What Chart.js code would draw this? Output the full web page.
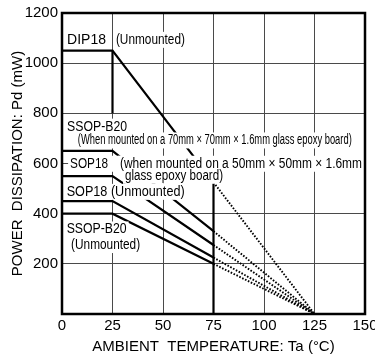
<!DOCTYPE html>
<html><head><meta charset="utf-8">
<script src="https://cdn.jsdelivr.net/npm/chart.js@4/dist/chart.umd.min.js"></script>
<style>
html,body{margin:0;padding:0;background:#fff;overflow:hidden}
#wrap{width:375px;height:364px;overflow:hidden;position:relative}
canvas{display:block}
</style></head><body>
<div id="wrap"><canvas id="c" width="390" height="364"></canvas></div>
<script>
// ---- data ----
const temperatures = [0, 25, 75, 125];          // Ta (°C): flat start, knee, end of solid, zero point
const dip18            = [1050, 1050, 525, 0];  // mW
const ssopB20Mounted   = [650, 650, 330, 0];
const sop18Mounted     = [550, 550, 275, 0];
const sop18Unmounted   = [450, 450, 225, 0];
const ssopB20Unmounted = [400, 400, 200, 0];
const marker25 = [800, 1050];   // vertical mark at 25 °C (mW range)
const marker75 = [0, 525];      // vertical mark at 75 °C (mW range)
const xTicks = [0, 25, 50, 75, 100, 125, 150];
const yTicks = [200, 400, 600, 800, 1000, 1200];

const FONT = "'Liberation Sans', Arial, Helvetica, sans-serif";

const series = [dip18, ssopB20Mounted, sop18Mounted, sop18Unmounted, ssopB20Unmounted];
const datasets = [];
series.forEach(s => {
  datasets.push({
    data: temperatures.slice(0, 3).map((t, i) => ({x: t, y: s[i]})),
    borderColor: '#000', borderWidth: 2.2, pointRadius: 0, showLine: true, fill: false
  });
  datasets.push({
    data: temperatures.slice(2).map((t, i) => ({x: t, y: s[i + 2]})),
    borderColor: '#000', borderWidth: 1.9, borderDash: [1.6, 1.6], pointRadius: 0, showLine: true, fill: false
  });
});
datasets.push({data: marker25.map(v => ({x: 25, y: v})), borderColor: '#000', borderWidth: 2.2, pointRadius: 0, showLine: true});
datasets.push({data: marker75.map(v => ({x: 75, y: v})), borderColor: '#000', borderWidth: 2.2, pointRadius: 0, showLine: true});

// labels: anchor (left, baseline) in data units; w = drawn width (px)
const labels = [
  {text: 'DIP18', x: 2.5, y: 1077, w: 40},
  {text: '(Unmounted)', x: 26.7, y: 1077, w: 69},
  {text: 'SSOP-B20', x: 2.5, y: 731, w: 60},
  {text: '(When mounted on a 70mm \u00d7 70mm \u00d7 1.6mm glass epoxy board)', x: 7.8, y: 676, w: 274},
  {text: 'SOP18', x: 4.0, y: 583, w: 38, mw: 50},
  {text: '(when mounted on a 50mm \u00d7 50mm \u00d7 1.6mm', x: 28.7, y: 583, w: 242},
  {text: 'glass epoxy board)', x: 31.2, y: 535, w: 98},
  {text: 'SOP18 (Unmounted)', x: 2.3, y: 471, w: 118},
  {text: 'SSOP-B20', x: 2.3, y: 321, w: 60},
  {text: '(Unmounted)', x: 4.5, y: 259, w: 69}
];

const labelPlugin = {
  id: 'labels',
  afterDatasetsDraw(chart) {
    const {ctx, scales: {x, y}} = chart;
    ctx.save();
    ctx.fillStyle = '#fff';
    labels.forEach(l => {
      const px = x.getPixelForValue(l.x), py = y.getPixelForValue(l.y);
      ctx.fillRect(px - 2, py - 12, (l.mw || l.w) + 4, 16);
    });
    ctx.fillStyle = '#000';
    ctx.font = '14px ' + FONT;
    ctx.textAlign = 'left';
    ctx.textBaseline = 'alphabetic';
    labels.forEach(l => {
      const px = x.getPixelForValue(l.x), py = y.getPixelForValue(l.y);
      ctx.fillText(l.text, px, py, l.w);
    });
    ctx.restore();
  },
  afterDraw(chart) {
    const {ctx, chartArea: a} = chart;
    ctx.save();
    ctx.strokeStyle = '#000';
    ctx.lineWidth = 2.5;
    ctx.strokeRect(a.left, a.top, a.right - a.left, a.bottom - a.top);
    ctx.restore();
  }
};

new Chart(document.getElementById('c'), {
  type: 'scatter',
  data: {datasets},
  plugins: [labelPlugin],
  options: {
    responsive: false,
    animation: false,
    devicePixelRatio: 1,
    layout: {padding: {left: 0, top: 13, right: 25, bottom: 0}},
    plugins: {legend: {display: false}, tooltip: {enabled: false}},
    elements: {line: {tension: 0}},
    scales: {
      x: {
        type: 'linear', min: 0, max: 150,
        afterBuildTicks: s => { s.ticks = xTicks.map(v => ({value: v})); },
        afterFit: s => { s.height = 50; },
        grid: {color: '#4a4a4a', lineWidth: 1, drawTicks: false},
        border: {display: false},
        ticks: {color: '#000', font: {family: FONT, size: 15}, padding: 3},
        title: {display: true, text: 'AMBIENT  TEMPERATURE: Ta (\u00b0C)', color: '#000',
                font: {family: FONT, size: 15}, padding: {top: 0, bottom: 8}}
      },
      y: {
        type: 'linear', min: 0, max: 1200,
        afterBuildTicks: s => { s.ticks = [0].concat(yTicks).map(v => ({value: v})); },
        afterFit: s => { s.width = 62; },
        grid: {color: '#4a4a4a', lineWidth: 1, drawTicks: false},
        border: {display: false},
        ticks: {color: '#000', font: {family: FONT, size: 15}, padding: 4,
                callback: v => (v === 0 ? '' : String(v))},
        title: {display: true, text: 'POWER  DISSIPATION: Pd (mW)', color: '#000',
                font: {family: FONT, size: 15}, padding: {top: 8.5, bottom: 0}}
      }
    }
  }
});
</script>
</body></html>
